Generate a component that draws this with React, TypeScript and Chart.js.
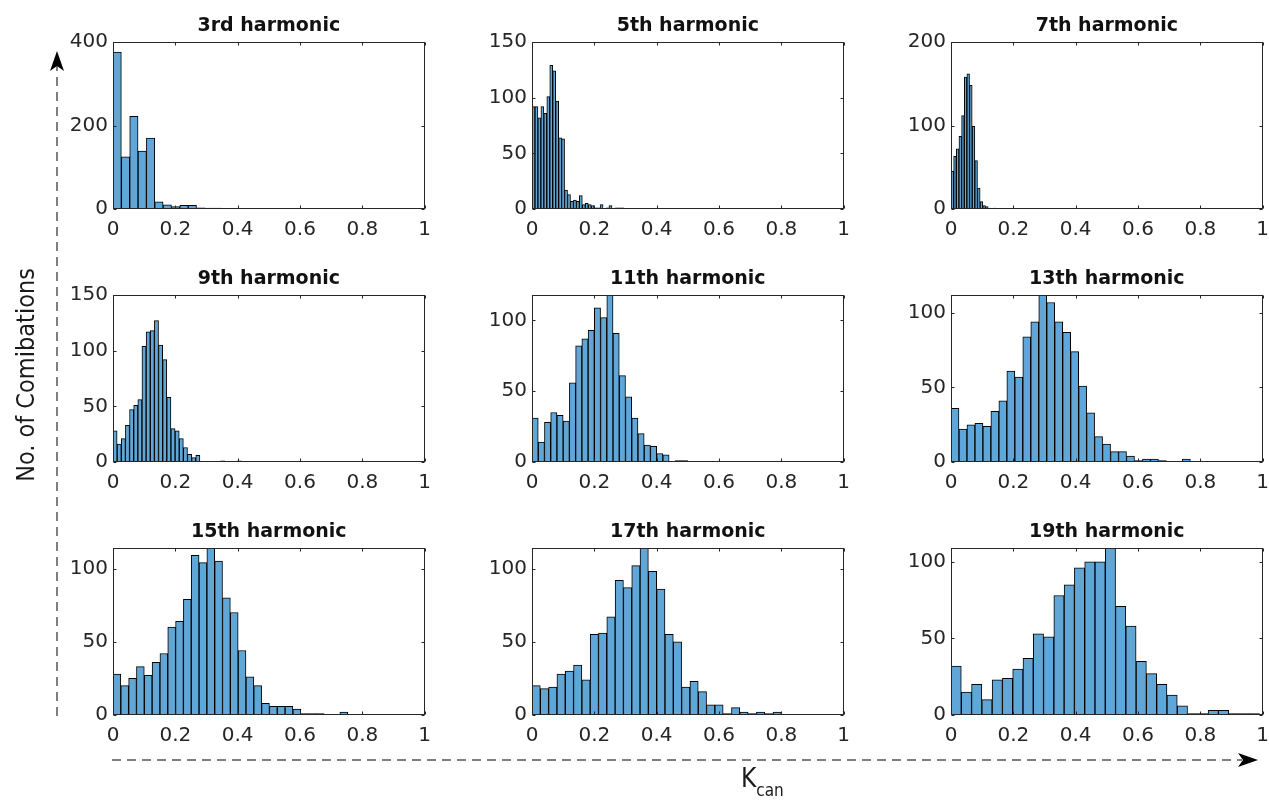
import React, { useEffect, useRef } from "react";
import { Chart, registerables } from "chart.js";

Chart.register(...registerables);

// ---- data: histogram counts per harmonic, bins start at K_can = 0 ----
const panelTitles = [
  "3rd harmonic",
  "5th harmonic",
  "7th harmonic",
  "9th harmonic",
  "11th harmonic",
  "13th harmonic",
  "15th harmonic",
  "17th harmonic",
  "19th harmonic",
];

const counts3rd = [376, 125, 222, 139, 170, 17, 10, 6, 9, 9, 3, 2, 2];
const counts5th = [92, 92, 82, 92, 86, 101, 129, 124, 97, 64, 63, 17, 13, 7, 8, 7, 12, 4, 5, 4, 3, 1, 1, 4, 0, 1, 3, 0, 1, 1, 1];
const counts7th = [45, 63, 72, 87, 112, 158, 162, 148, 99, 58, 25, 9, 4, 3, 1, 0, 1];
const counts9th = [28, 16, 21, 33, 47, 51, 56, 104, 117, 118, 127, 105, 92, 58, 30, 28, 21, 13, 7, 4, 6, 0, 0, 0, 0, 0, 1, 0, 0, 0, 1];
const counts11th = [31, 14, 28, 35, 33, 29, 56, 82, 87, 93, 109, 102, 118, 91, 61, 46, 31, 20, 12, 11, 6, 5, 0, 1, 1];
const counts13th = [36, 22, 25, 26, 24, 34, 41, 61, 57, 84, 94, 112, 107, 94, 87, 74, 51, 33, 17, 12, 7, 7, 4, 1, 2, 2, 1, 0, 0, 2];
const counts15th = [28, 20, 25, 33, 27, 36, 42, 60, 64, 79, 109, 104, 114, 105, 80, 70, 44, 26, 20, 8, 6, 6, 6, 4, 1, 1, 1, 0, 0, 2];
const counts17th = [20, 18, 19, 28, 30, 34, 24, 55, 56, 67, 92, 87, 102, 114, 98, 86, 55, 50, 19, 23, 16, 7, 7, 1, 5, 2, 1, 2, 1, 2];
const counts19th = [32, 15, 20, 10, 23, 24, 30, 37, 53, 51, 78, 85, 96, 100, 100, 109, 71, 58, 35, 27, 20, 13, 6, 1, 1, 3, 3, 1, 1, 1];

const panelCounts = [counts3rd, counts5th, counts7th, counts9th, counts11th, counts13th, counts15th, counts17th, counts19th];
const binWidths = [0.0268, 0.0095, 0.0085, 0.01328, 0.02, 0.0256, 0.0251, 0.02667, 0.033];
const yAxisMax = [400, 150, 200, 150, 118, 112, 114, 114, 109];
const yTickStep = [200, 50, 100, 50, 50, 50, 50, 50, 50];
const xAxisMin = 0;
const xAxisMax = 1;
const xTickStep = 0.2;

// ---- layout ----
const COL_LEFT = [113, 532, 951];
const ROW_TOP = [42, 295, 548];
const PLOT_W = 312;
const PLOT_H = 167;
const Y_AXIS_W = 60;
const X_AXIS_H = 36;
const TITLE_LINE = 23;
const TITLE_GAP = 4;
const RIGHT_PAD = 15;
const CANVAS_W = Y_AXIS_W + PLOT_W + RIGHT_PAD;
const CANVAS_H = TITLE_LINE + TITLE_GAP + PLOT_H + X_AXIS_H;

const FONT = "'DejaVu Sans', sans-serif";
const AXIS_COLOR = "#262626";
const BAR_FILL = "#60a6d6";

// Box around the axes with short inward tick marks on all four sides
const boxPlugin = {
  id: "axesBox",
  afterDatasetsDraw(chart: any) {
    const { ctx, chartArea: a, scales } = chart;
    const tl = 3;
    const L = Math.round(a.left) + 0.5;
    const R = Math.round(a.right) - 0.5;
    const T = Math.round(a.top) + 0.5;
    const B = Math.round(a.bottom) - 0.5;
    ctx.save();
    ctx.strokeStyle = AXIS_COLOR;
    ctx.lineWidth = 1;
    ctx.beginPath();
    scales.x.ticks.forEach((t: any) => {
      const px = Math.round(scales.x.getPixelForValue(t.value)) + 0.5;
      ctx.moveTo(px, B);
      ctx.lineTo(px, B - tl);
      ctx.moveTo(px, T);
      ctx.lineTo(px, T + tl);
    });
    scales.y.ticks.forEach((t: any) => {
      const py = Math.round(scales.y.getPixelForValue(t.value)) + 0.5;
      ctx.moveTo(L, py);
      ctx.lineTo(L + tl, py);
      ctx.moveTo(R, py);
      ctx.lineTo(R - tl, py);
    });
    ctx.stroke();
    ctx.strokeRect(L, T, R - L, B - T);
    ctx.restore();
  },
};

function buildConfig(i: number): any {
  const counts = panelCounts[i];
  const w = binWidths[i];
  const points = counts.map((c, k) => ({ x: xAxisMin + (k + 0.5) * w, y: c }));
  return {
    type: "bar",
    data: {
      datasets: [
        {
          data: points,
          backgroundColor: BAR_FILL,
          borderColor: "#000000",
          borderWidth: 1,
          borderSkipped: false,
          barPercentage: 1,
          categoryPercentage: 1,
        },
      ],
    },
    options: {
      animation: false,
      responsive: false,
      maintainAspectRatio: false,
      layout: { padding: { left: 0, right: RIGHT_PAD, top: 0, bottom: 0 } },
      plugins: {
        legend: { display: false },
        tooltip: { enabled: false },
        title: {
          display: true,
          fullSize: false,
          text: panelTitles[i],
          color: "#111111",
          font: { family: FONT, size: 19, weight: "bold", lineHeight: TITLE_LINE + "px" },
          padding: { top: 0, bottom: TITLE_GAP },
        },
      },
      scales: {
        x: {
          type: "linear",
          min: xAxisMin,
          max: xAxisMax,
          offset: false,
          grid: { display: false, drawTicks: false, offset: false },
          border: { display: false },
          ticks: {
            stepSize: xTickStep,
            padding: 9,
            color: AXIS_COLOR,
            font: { family: FONT, size: 20 },
            maxRotation: 0,
            autoSkip: false,
            callback: (v: any) => String(Number(Number(v).toFixed(1))),
          },
          afterFit: (s: any) => {
            s.height = X_AXIS_H;
          },
        },
        y: {
          type: "linear",
          min: 0,
          max: yAxisMax[i],
          grid: { display: false, drawTicks: false },
          border: { display: false },
          ticks: {
            stepSize: yTickStep[i],
            includeBounds: false,
            padding: 5,
            color: AXIS_COLOR,
            font: { family: FONT, size: 20 },
            callback: (v: any) => String(v),
          },
          afterFit: (s: any) => {
            s.width = Y_AXIS_W;
          },
        },
      },
    },
    plugins: [boxPlugin],
  };
}

function HistogramPanel({ index }: { index: number }) {
  const ref = useRef<HTMLCanvasElement>(null);
  useEffect(() => {
    const chart = new Chart(ref.current as HTMLCanvasElement, buildConfig(index));
    return () => chart.destroy();
  }, [index]);
  const col = index % 3;
  const row = Math.floor(index / 3);
  const left = COL_LEFT[col] - Y_AXIS_W;
  const top = ROW_TOP[row] - TITLE_LINE - TITLE_GAP;
  return (
    <canvas
      ref={ref}
      width={CANVAS_W}
      height={CANVAS_H}
      style={{ position: "absolute", left, top, width: CANVAS_W, height: CANVAS_H }}
    />
  );
}

export default function App() {
  return (
    <div
      style={{
        position: "absolute",
        left: 0,
        top: 0,
        width: 1269,
        height: 801,
        background: "#ffffff",
        overflow: "hidden",
      }}
    >
      {panelTitles.map((_, i) => (
        <HistogramPanel key={i} index={i} />
      ))}
      <svg
        width={1269}
        height={801}
        style={{ position: "absolute", left: 0, top: 0, pointerEvents: "none" }}
      >
        {/* vertical dashed arrow: number of combinations */}
        <line x1={57} y1={716} x2={57} y2={66} stroke="#555555" strokeWidth={1.5} strokeDasharray="9 6" />
        <polygon points="57,51 64,71 57,66 50,71" fill="#000000" />
        {/* horizontal dashed arrow: K_can */}
        <line x1={112} y1={760} x2={1242} y2={760} stroke="#555555" strokeWidth={1.5} strokeDasharray="9 6" />
        <polygon points="1258,760 1238,753 1243,760 1238,767" fill="#000000" />
        <text
          transform="translate(34, 375) rotate(-90)"
          textAnchor="middle"
          fontFamily="'DejaVu Sans Condensed', 'DejaVu Sans', sans-serif"
          fontSize={25}
          fill="#1a1a1a"
        >
          No. of Comibations
        </text>
        <text x={741} y={787} fontFamily="'DejaVu Sans Condensed', 'DejaVu Sans', sans-serif" fontSize={26} fill="#1a1a1a">
          K
          <tspan fontSize={17} dy={9}>
            can
          </tspan>
        </text>
      </svg>
    </div>
  );
}
